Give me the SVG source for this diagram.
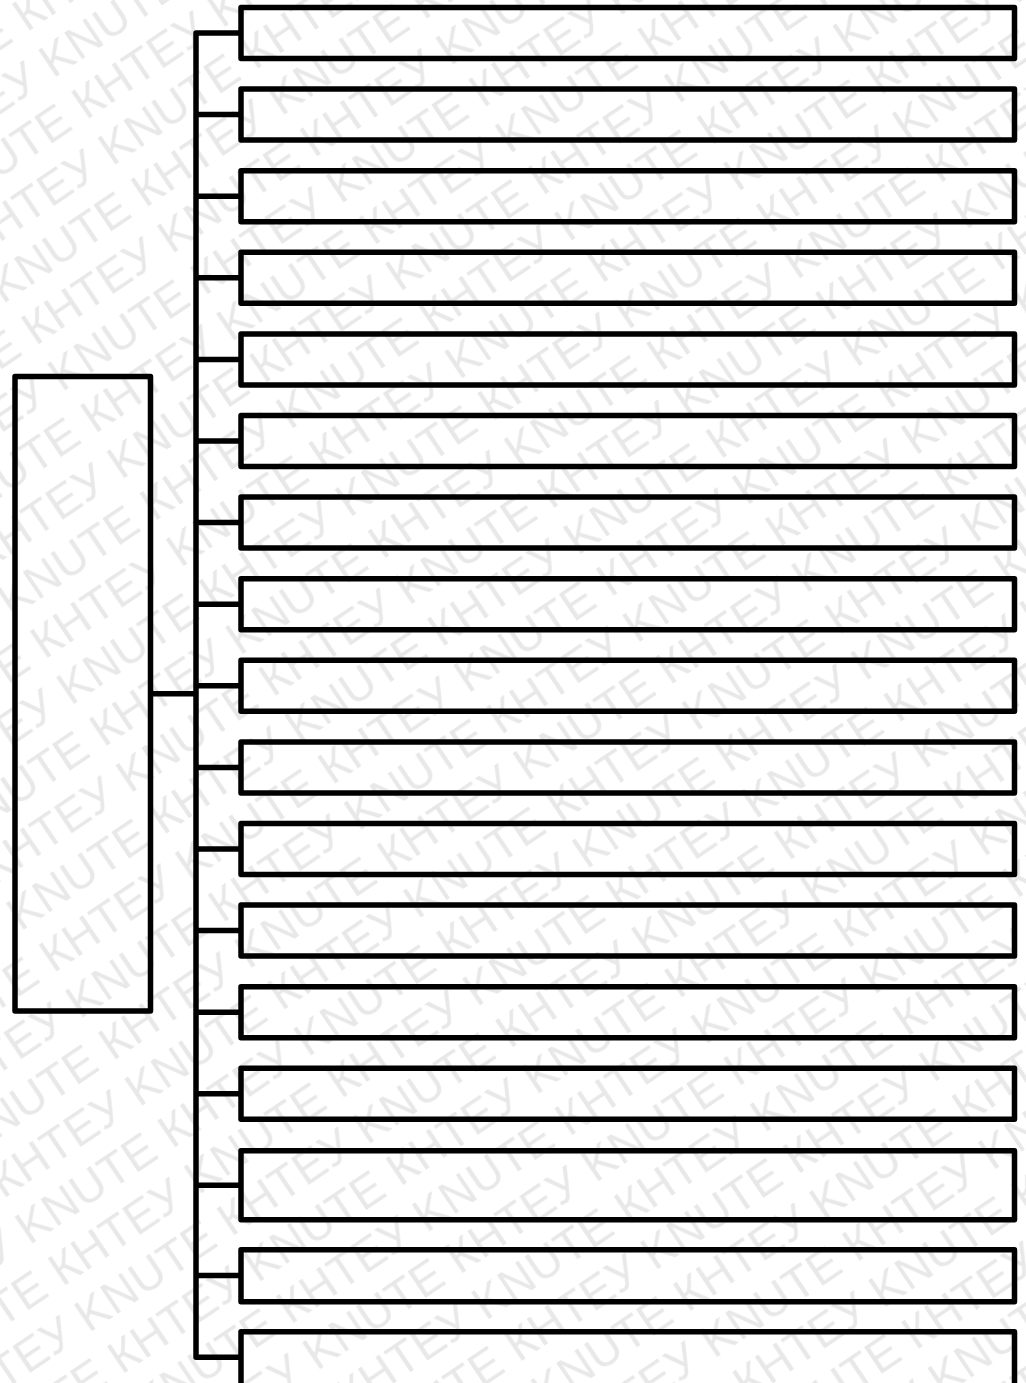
<svg xmlns="http://www.w3.org/2000/svg" width="1026" height="1383" viewBox="0 0 1026 1383">
  <style>
    .box { fill: none; stroke: #000; stroke-width: 5.5; stroke-linejoin: round; }
    .conn { fill: none; stroke: #000; stroke-width: 5.5; stroke-linejoin: round; stroke-linecap: butt; }
    .wm { font-family: "Liberation Sans", Arial, sans-serif; font-size: 46px; fill: #e8e8e8; }
  </style>
  <defs>
    <pattern id="wmpat" width="336" height="106" patternUnits="userSpaceOnUse" patternTransform="rotate(-34)">
      <text class="wm" x="4" y="42" textLength="322" lengthAdjust="spacing">КНТЕУ KNUTE</text>
      <text class="wm" x="172" y="95" textLength="322" lengthAdjust="spacing">КНТЕУ KNUTE</text>
      <text class="wm" x="-164" y="95" textLength="322" lengthAdjust="spacing">КНТЕУ KNUTE</text>
    </pattern>
  </defs>
  <rect width="1026" height="1383" fill="#fff"/>
  <g id="watermark">
    <rect width="1026" height="1383" fill="url(#wmpat)"/>
  </g>
  <g id="connectors">
    <path class="conn" d="M150.5 693.7 H196"/>
    <path class="conn" d="M241 33 H196 V1357.3 H241"/>
    <path class="conn" d="M196 114.6 H241 M196 196.2 H241 M196 277.8 H241 M196 359.4 H241 M196 441 H241 M196 522.6 H241 M196 604.2 H241 M196 685.8 H241 M196 767.4 H241 M196 849 H241 M196 930.6 H241 M196 1012.2 H241 M196 1093.8 H241 M196 1185.3 H241 M196 1275.5 H241"/>
  </g>
  <g id="root"><rect class="box" x="15" y="376.5" width="135.5" height="634.5"/></g>
  <g id="n1"><rect class="box" x="241" y="7.5" width="773.5" height="51"/></g>
  <g id="n2"><rect class="box" x="241" y="89.1" width="773.5" height="51"/></g>
  <g id="n3"><rect class="box" x="241" y="170.7" width="773.5" height="51"/></g>
  <g id="n4"><rect class="box" x="241" y="252.3" width="773.5" height="51"/></g>
  <g id="n5"><rect class="box" x="241" y="333.9" width="773.5" height="51"/></g>
  <g id="n6"><rect class="box" x="241" y="415.5" width="773.5" height="51"/></g>
  <g id="n7"><rect class="box" x="241" y="497.1" width="773.5" height="51"/></g>
  <g id="n8"><rect class="box" x="241" y="578.7" width="773.5" height="51"/></g>
  <g id="n9"><rect class="box" x="241" y="660.3" width="773.5" height="51"/></g>
  <g id="n10"><rect class="box" x="241" y="741.9" width="773.5" height="51"/></g>
  <g id="n11"><rect class="box" x="241" y="823.5" width="773.5" height="51"/></g>
  <g id="n12"><rect class="box" x="241" y="905.1" width="773.5" height="51"/></g>
  <g id="n13"><rect class="box" x="241" y="986.7" width="773.5" height="51"/></g>
  <g id="n14"><rect class="box" x="241" y="1068.3" width="773.5" height="51"/></g>
  <g id="n15"><rect class="box" x="241" y="1150.8" width="773.5" height="69"/></g>
  <g id="n16"><rect class="box" x="241" y="1249.8" width="773.5" height="52"/></g>
  <g id="n17"><rect class="box" x="241" y="1331.8" width="773.5" height="58"/></g>
</svg>
